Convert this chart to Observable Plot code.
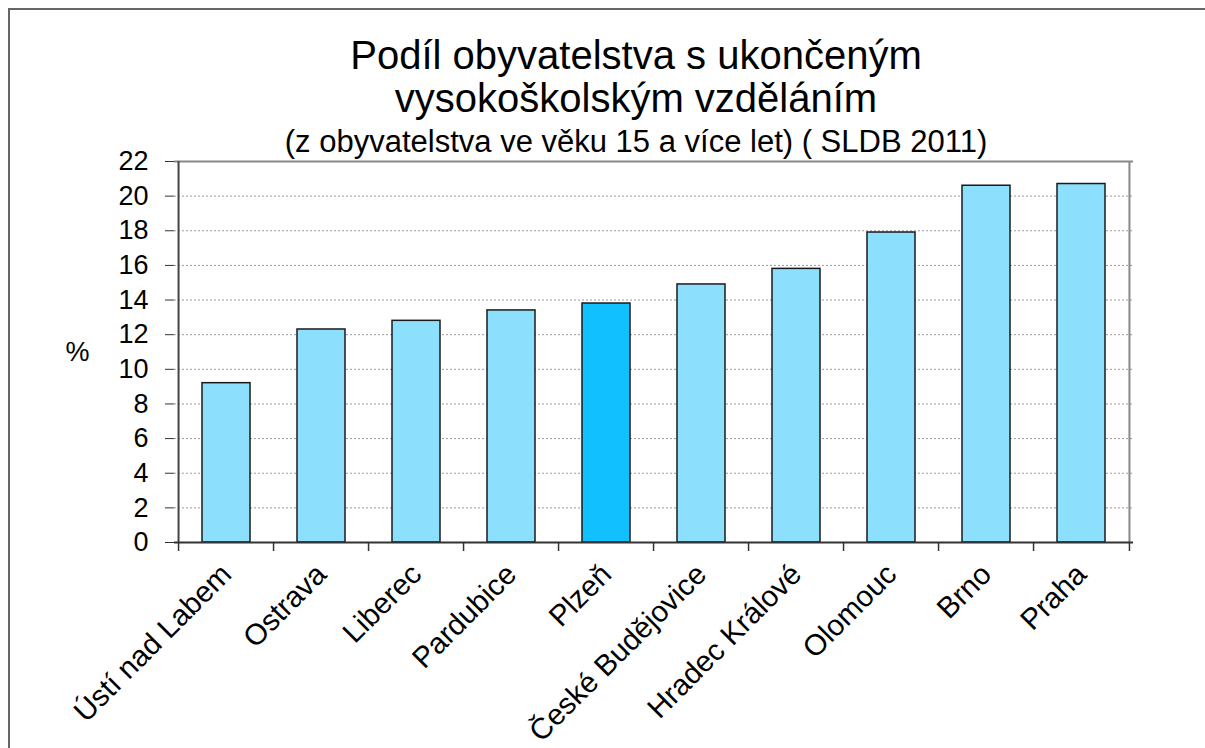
<!DOCTYPE html>
<html>
<head>
<meta charset="utf-8">
<script src="https://cdn.jsdelivr.net/npm/d3@7"></script>
<script src="https://cdn.jsdelivr.net/npm/@observablehq/plot@0.6"></script>
<style>
  html, body { margin: 0; padding: 0; background: #fff; overflow: hidden; }
  body { width: 1205px; height: 748px; position: relative; font-family: "Liberation Sans", Arial, sans-serif; }
  #outer { position: absolute; left: 8px; top: 8px; width: 2000px; height: 2000px; border-top: 2px solid #666; border-left: 2px solid #666; }
  .t { position: absolute; left: 0; width: 1272px; text-align: center; color: #000; white-space: nowrap; }
  #title1 { top: 33px; font-size: 40px; line-height: 44px; }
  #title2 { top: 76px; font-size: 40px; line-height: 44px; }
  #subtitle { top: 125px; font-size: 31px; line-height: 34px; }
  #chart { position: absolute; left: 0; top: 150px; }
</style>
</head>
<body>
<div id="outer"></div>
<div class="t" id="title1">Podíl obyvatelstva s ukončeným</div>
<div class="t" id="title2">vysokoškolským vzděláním</div>
<div class="t" id="subtitle">(z obyvatelstva ve věku 15 a více let) ( SLDB 2011)</div>
<div id="chart"></div>
<script>
const cities = ["Ústí nad Labem", "Ostrava", "Liberec", "Pardubice", "Plzeň", "České Budějovice", "Hradec Králové", "Olomouc", "Brno", "Praha"];
const shares = [9.2, 12.3, 12.8, 13.4, 13.8, 14.9, 15.8, 17.9, 20.6, 20.7];
const highlighted = "Plzeň";
const yTicks = [0, 2, 4, 6, 8, 10, 12, 14, 16, 18, 20, 22];
const gridTicks = [2, 4, 6, 8, 10, 12, 14, 16, 18, 20];
const yLabel = "%";

const data = cities.map((c, i) => ({city: c, value: shares[i]}));

const W = 1205, H = 598;
const mL = 174, mR = 72, mT = 11, mB = 206;
const half = (W - mL - mR) / cities.length / 2;

const chart = Plot.plot({
  width: W,
  height: H,
  marginLeft: mL,
  marginRight: mR,
  marginTop: mT,
  marginBottom: mB,
  style: {fontFamily: "'Liberation Sans', Arial, sans-serif", color: "#000", background: "transparent", overflow: "visible"},
  x: {domain: cities, paddingInner: 0.5, paddingOuter: 0.25, align: 0.5, label: null},
  y: {domain: [0, 22], label: null},
  marks: [
    Plot.gridY(gridTicks, {stroke: "#999", strokeOpacity: 1, strokeDasharray: "2,2", strokeWidth: 1}),
    Plot.barY(data, {x: "city", y: "value", fill: d => d.city === highlighted ? "#10C0FF" : "#8CE0FE", stroke: "#1a1a1a", strokeWidth: 1.5}),
    // plot area top and right borders
    Plot.ruleY([22], {stroke: "#888", strokeWidth: 2}),
    Plot.ruleX([cities[cities.length - 1]], {dx: half, y1: 0, y2: 22, stroke: "#888", strokeWidth: 2}),
    // left axis line
    Plot.ruleX([cities[0]], {dx: -half, y1: 0, y2: 22, stroke: "#444", strokeWidth: 2}),
    // bottom axis line
    Plot.ruleY([0], {stroke: "#333", strokeWidth: 2}),
    // x tick marks at category boundaries
    Plot.ruleX(cities, {dx: -half, y1: 0, y2: 0, insetBottom: -9, stroke: "#333", strokeWidth: 1.5}),
    Plot.ruleX([cities[cities.length - 1]], {dx: half, y1: 0, y2: 0, insetBottom: -9, stroke: "#333", strokeWidth: 1.5}),
    Plot.axisY({ticks: yTicks, tickSize: 9, tickPadding: 17, fontSize: 27, label: null, stroke: "#333"}),
    Plot.axisX({tickSize: 0, tickPadding: 27, tickRotate: -45, fontSize: 29.5, label: null}),
    Plot.text([yLabel], {text: d => d, frameAnchor: "left", dx: -97, fontSize: 27, textAnchor: "middle"})
  ]
});
document.getElementById("chart").appendChild(chart);
</script>
</body>
</html>
